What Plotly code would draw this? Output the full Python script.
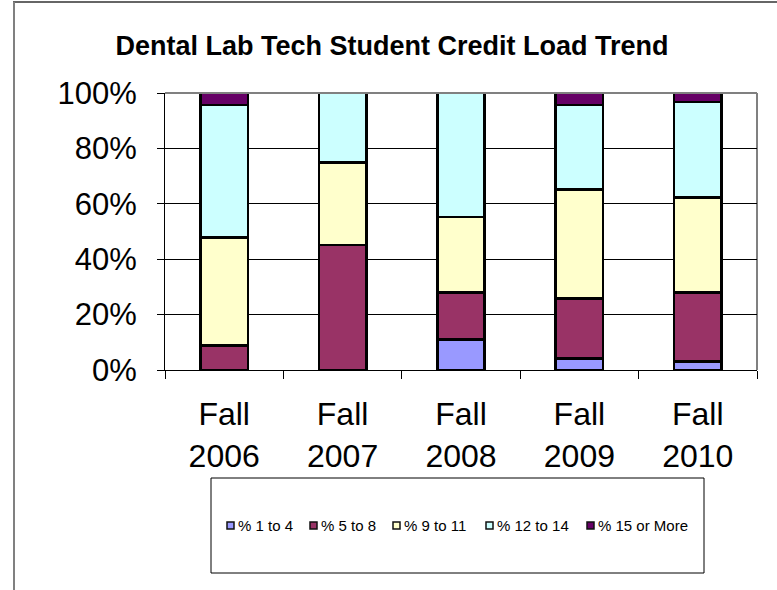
import plotly.graph_objects as go

categories = ["Fall<br>2006", "Fall<br>2007", "Fall<br>2008", "Fall<br>2009", "Fall<br>2010"]
series_names = ["% 1 to 4", "% 5 to 8", "% 9 to 11", "% 12 to 14", "% 15 or More"]
pct_1_to_4 = [0.0, 0.0, 11.1, 4.2, 3.0]
pct_5_to_8 = [8.8, 45.1, 16.8, 21.7, 25.0]
pct_9_to_11 = [39.1, 29.9, 27.4, 39.3, 34.3]
pct_12_to_14 = [47.8, 25.0, 44.7, 30.4, 34.5]
pct_15_plus = [4.3, 0.0, 0.0, 4.4, 3.2]
colors = ["#9999FF", "#993366", "#FFFFCC", "#CCFFFF", "#660066"]
y_ticks = [0, 20, 40, 60, 80, 100]
y_tick_labels = ["0%", "20%", "40%", "60%", "80%", "100%"]

series = [pct_1_to_4, pct_5_to_8, pct_9_to_11, pct_12_to_14, pct_15_plus]

W, H = 777, 590
L, R, T, B = 165, 20, 93, 220
pw, ph = W - L - R, H - T - B


def px_x(p):
    return (p - L) / pw


def px_y(p):
    return (H - B - p) / ph


fig = go.Figure()
for name, vals, col in zip(series_names, series, colors):
    fig.add_trace(go.Bar(
        x=categories, y=vals, name=name,
        marker=dict(color=col, line=dict(color="black", width=2.5)),
    ))

font_family = "Liberation Sans, Arial, sans-serif"

fig.update_layout(
    width=W, height=H,
    barmode="stack", bargap=0.6,
    plot_bgcolor="white", paper_bgcolor="white",
    margin=dict(l=L, r=R, t=T, b=B, pad=0),
    font=dict(family=font_family, color="black"),
    title=dict(text="<b>Dental Lab Tech Student Credit Load Trend</b>",
               font=dict(size=27, family=font_family, color="black"),
               x=392 / W, xref="container", xanchor="center",
               y=1 - 46 / H, yref="container", yanchor="middle"),
    showlegend=False,
)

fig.update_xaxes(
    type="category", tickson="boundaries", ticks="outside", ticklen=8,
    tickcolor="black", showline=True, linecolor="black", linewidth=1,
    showgrid=False, tickfont=dict(size=32, family=font_family, color="black"),
    ticklabelstandoff=16,
)
fig.update_yaxes(
    range=[0, 100], tickvals=y_ticks, ticktext=y_tick_labels,
    ticks="outside", ticklen=7, tickcolor="black",
    showline=True, linecolor="black", linewidth=1,
    showgrid=True, gridcolor="black", gridwidth=1, zeroline=False,
    tickfont=dict(size=31, family=font_family, color="black"),
    ticklabelstandoff=14,
)

shapes = [
    # plot area border (gray top/right)
    dict(type="line", xref="paper", yref="paper", x0=0, x1=1, y0=1, y1=1,
         line=dict(color="#808080", width=2), layer="above"),
    dict(type="line", xref="paper", yref="paper", x0=1, x1=1, y0=0, y1=1,
         line=dict(color="#808080", width=2), layer="below"),
    # legend box
    dict(type="rect", xref="paper", yref="paper",
         x0=px_x(211), x1=px_x(704), y0=px_y(478), y1=px_y(573),
         line=dict(color="black", width=1), fillcolor="rgba(0,0,0,0)"),
    # outer frame (top and left)
    dict(type="line", xref="paper", yref="paper",
         x0=px_x(13), x1=px_x(777), y0=px_y(2), y1=px_y(2),
         line=dict(color="#333333", width=1.5)),
    dict(type="line", xref="paper", yref="paper",
         x0=px_x(14), x1=px_x(14), y0=px_y(2), y1=px_y(590),
         line=dict(color="#808080", width=2)),
]

# legend entries (drawn inside the Excel-style legend box)
legend_x = [227, 310, 393, 486, 587]
legend_y = 525.5
annotations = []
for name, col, lx in zip(series_names, colors, legend_x):
    shapes.append(dict(type="rect", xref="paper", yref="paper",
                       x0=px_x(lx), x1=px_x(lx + 7),
                       y0=px_y(legend_y + 3.5), y1=px_y(legend_y - 3.5),
                       line=dict(color="#111111", width=1.5), fillcolor=col))
    annotations.append(dict(text=name, xref="paper", yref="paper",
                            x=px_x(lx + 9), y=px_y(legend_y),
                            xanchor="left", yanchor="middle", showarrow=False,
                            font=dict(size=15, family=font_family, color="black")))

fig.update_layout(shapes=shapes, annotations=annotations)

fig.write_html("out.html", config={"displayModeBar": False},
               post_script="document.body.style.margin='0';")
